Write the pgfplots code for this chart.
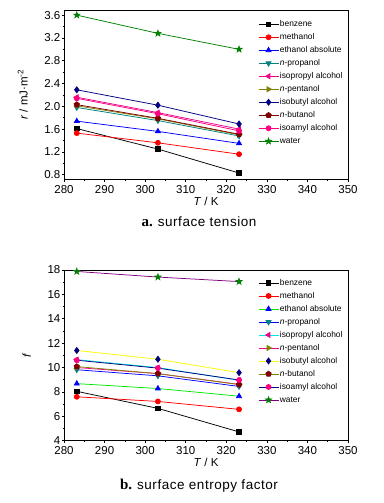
\documentclass[border=0pt]{standalone}
\usepackage{fontspec}
\setmainfont{Liberation Sans}
\newfontfamily\serif{Liberation Serif}
\usepackage{pgfplots}
\pgfplotsset{compat=1.18}
\usetikzlibrary{plotmarks}
\definecolor{dcyan}{RGB}{0,128,128}
\definecolor{dyellow}{RGB}{128,128,0}
\definecolor{navyc}{RGB}{0,0,128}
\definecolor{wine}{RGB}{128,0,0}
\definecolor{pinkc}{RGB}{255,0,128}
\definecolor{olivec}{RGB}{0,128,0}
\definecolor{purplec}{RGB}{128,0,128}
\definecolor{greenc}{RGB}{0,230,0}
\definecolor{yellowc}{RGB}{250,250,0}
\definecolor{cyanc}{RGB}{0,230,230}
\pgfdeclareplotmark{fstar}{%
  \pgfpathmoveto{\pgfqpointpolar{90}{1.25\pgfplotmarksize}}%
  \pgfpathlineto{\pgfqpointpolar{126}{0.5\pgfplotmarksize}}%
  \pgfpathlineto{\pgfqpointpolar{162}{1.25\pgfplotmarksize}}%
  \pgfpathlineto{\pgfqpointpolar{198}{0.5\pgfplotmarksize}}%
  \pgfpathlineto{\pgfqpointpolar{234}{1.25\pgfplotmarksize}}%
  \pgfpathlineto{\pgfqpointpolar{270}{0.5\pgfplotmarksize}}%
  \pgfpathlineto{\pgfqpointpolar{306}{1.25\pgfplotmarksize}}%
  \pgfpathlineto{\pgfqpointpolar{342}{0.5\pgfplotmarksize}}%
  \pgfpathlineto{\pgfqpointpolar{18}{1.25\pgfplotmarksize}}%
  \pgfpathlineto{\pgfqpointpolar{54}{0.5\pgfplotmarksize}}%
  \pgfpathclose\pgfusepathqfillstroke}
\pgfplotsset{myax/.style={
  scale only axis, width=284pt,
  xmin=280, xmax=350, xtick={280,290,300,310,320,330,340,350},
  minor x tick num=1, minor y tick num=1,
  tick align=outside, xtick pos=bottom, ytick pos=left,
  major tick length=2.5pt, minor tick length=1.5pt,
  tick style={black, line width=0.6pt},
  axis line style={line width=0.8pt},
  ticklabel style={font=\fontsize{11.5}{13}\selectfont},
  yticklabel style={inner sep=1pt},
  xticklabel style={inner sep=2pt, yshift=-1.5pt},
  /pgf/number format/assume math mode=true,
  label style={font=\fontsize{11.5}{13}\selectfont},
  xlabel={\textit{T} / K},
  xlabel style={inner sep=1pt},
  ylabel shift=12pt,
  legend style={draw=none, fill=none, font=\fontsize{8.4}{9}\selectfont,
    anchor=north west, legend cell align=left, row sep=3.5pt, inner sep=0pt,
    nodes={inner sep=1pt, text height=6pt, text depth=1.5pt}},
  legend image code/.code={\draw[mark repeat=2,mark phase=2] plot coordinates {(0pt,0pt) (10pt,0pt) (20pt,0pt)};},
  every axis plot/.append style={line width=0.75pt, mark size=2.5pt},
}}
\begin{document}
\begin{tikzpicture}[x=1pt,y=1pt]
\useasboundingbox (0,0) rectangle (383,503);
% top axis
\begin{axis}[myax, at={(64pt,323.7pt)}, anchor=south west, height=169.3pt,
  ymin=0.72, ymax=3.69, ytick={0.8,1.2,1.6,2.0,2.4,2.8,3.2,3.6},
  yticklabel style={/pgf/number format/.cd, fixed, fixed zerofill, precision=1},
  ylabel={\textit{r} / mJ·m\textsuperscript{-2}},
  legend style={at={(0.683,0.945)}}]
\addplot[black, mark=square*, mark options={solid}, mark size=2.3pt] coordinates {(283.15,1.61) (303.15,1.25) (323.15,0.83)};
\addlegendentry{benzene}
\addplot[red, mark=*, mark options={solid}] coordinates {(283.15,1.53) (303.15,1.36) (323.15,1.16)};
\addlegendentry{methanol}
\addplot[blue, mark=triangle*, mark options={solid}, mark size=2.9pt] coordinates {(283.15,1.74) (303.15,1.56) (323.15,1.35)};
\addlegendentry{ethanol absolute}
\addplot[dcyan, mark=triangle*, mark options={solid, rotate=180}, mark size=2.9pt] coordinates {(283.15,1.98) (303.15,1.75) (323.15,1.48)};
\addlegendentry{\textit{n}-propanol}
\addplot[magenta, mark=triangle*, mark options={solid, rotate=90}, mark size=2.9pt] coordinates {(283.15,2.16) (303.15,1.89) (323.15,1.60)};
\addlegendentry{isopropyl alcohol}
\addplot[dyellow, mark=triangle*, mark options={solid, rotate=-90}, mark size=2.9pt] coordinates {(283.15,2.01) (303.15,1.78) (323.15,1.50)};
\addlegendentry{\textit{n}-pentanol}
\addplot[navyc, mark=diamond*, mark options={solid}, mark size=3pt] coordinates {(283.15,2.29) (303.15,2.02) (323.15,1.69)};
\addlegendentry{isobutyl alcohol}
\addplot[wine, mark=pentagon*, mark options={solid}, mark size=2.8pt] coordinates {(283.15,2.03) (303.15,1.79) (323.15,1.51)};
\addlegendentry{\textit{n}-butanol}
\addplot[pinkc, mark=*, mark options={solid}] coordinates {(283.15,2.14) (303.15,1.87) (323.15,1.57)};
\addlegendentry{isoamyl alcohol}
\addplot[olivec, mark=fstar, mark options={solid}, mark size=2.5pt] coordinates {(283.15,3.60) (303.15,3.28) (323.15,3.00)};
\addlegendentry{water}
\end{axis}
% bottom axis
\begin{axis}[myax, at={(64pt,62.3pt)}, anchor=south west, height=170.7pt,
  ymin=4, ymax=18, ytick={4,6,8,10,12,14,16,18},
  ylabel={\textit{f}},
  legend style={at={(0.683,0.953)}}]
\addplot[black, mark=square*, mark options={solid, fill=black, draw=black}, mark size=2.3pt] coordinates {(283.15,8.05) (303.15,6.65) (323.15,4.72)};
\addlegendentry{benzene}
\addplot[red, mark=*, mark options={solid, fill=red, draw=red}] coordinates {(283.15,7.60) (303.15,7.22) (323.15,6.57)};
\addlegendentry{methanol}
\addplot[greenc, mark=triangle*, mark options={solid, fill=blue, draw=blue}, mark size=2.9pt] coordinates {(283.15,8.68) (303.15,8.28) (323.15,7.65)};
\addlegendentry{ethanol absolute}
\addplot[blue, mark=triangle*, mark options={solid, rotate=180, fill=dcyan, draw=dcyan}, mark size=2.9pt] coordinates {(283.15,9.82) (303.15,9.32) (323.15,8.45)};
\addlegendentry{\textit{n}-propanol}
\addplot[cyanc, mark=triangle*, mark options={solid, rotate=90, fill=magenta, draw=magenta}, mark size=2.9pt] coordinates {(283.15,10.65) (303.15,10.00) (323.15,8.95)};
\addlegendentry{isopropyl alcohol}
\addplot[magenta, mark=triangle*, mark options={solid, rotate=-90, fill=dyellow, draw=dyellow}, mark size=2.9pt] coordinates {(283.15,10.00) (303.15,9.50) (323.15,8.62)};
\addlegendentry{\textit{n}-pentanol}
\addplot[yellowc, mark=diamond*, mark options={solid, fill=navyc, draw=navyc}, mark size=3pt] coordinates {(283.15,11.40) (303.15,10.68) (323.15,9.58)};
\addlegendentry{isobutyl alcohol}
\addplot[dyellow, mark=pentagon*, mark options={solid, fill=wine, draw=wine}, mark size=2.8pt] coordinates {(283.15,10.08) (303.15,9.50) (323.15,8.60)};
\addlegendentry{\textit{n}-butanol}
\addplot[navyc, mark=*, mark options={solid, fill=pinkc, draw=pinkc}] coordinates {(283.15,10.60) (303.15,9.95) (323.15,8.98)};
\addlegendentry{isoamyl alcohol}
\addplot[purplec, mark=fstar, mark options={solid, fill=olivec, draw=olivec}, mark size=2.5pt] coordinates {(283.15,17.88) (303.15,17.42) (323.15,17.05)};
\addlegendentry{water}
\end{axis}
\node[anchor=base] at (199,276.3) {{\serif\bfseries\fontsize{15}{17}\selectfont a.}\enspace{\addfontfeature{LetterSpace=4}\fontsize{13.5}{15}\selectfont surface tension}};
\node[anchor=base] at (199,13) {{\serif\bfseries\fontsize{15}{17}\selectfont b.}\enspace{\addfontfeature{LetterSpace=4}\fontsize{13.5}{15}\selectfont surface entropy factor}};
\end{tikzpicture}
\end{document}
